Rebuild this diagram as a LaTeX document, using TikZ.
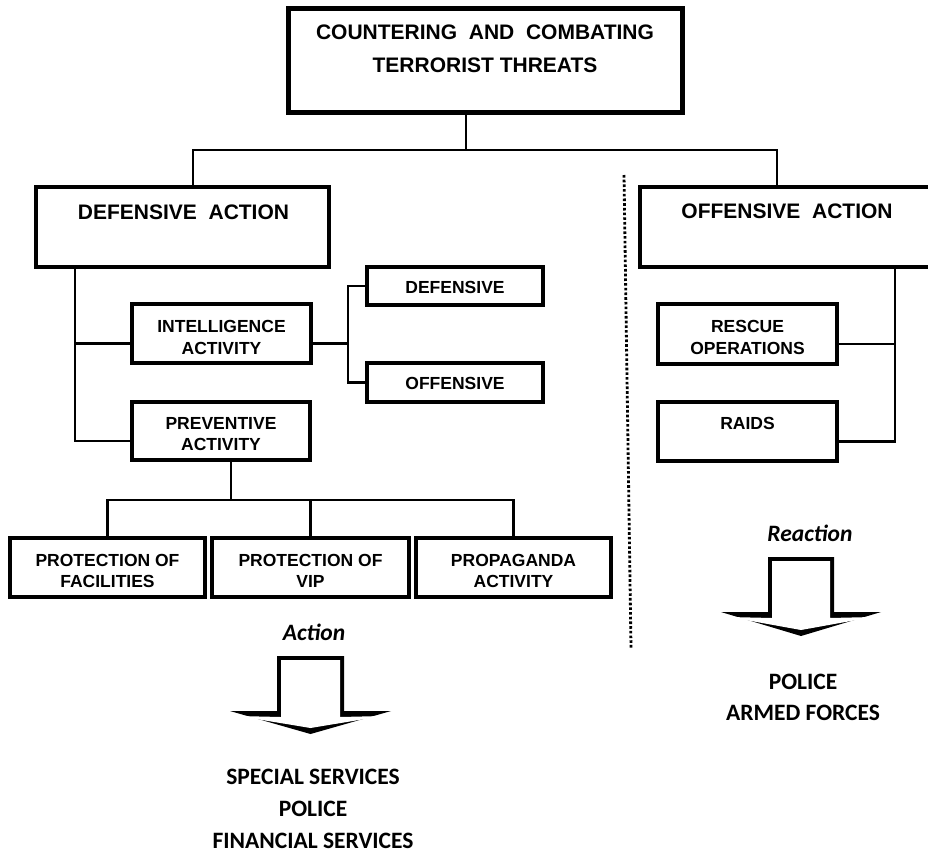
\documentclass[tikz,border=0pt]{standalone}
\usepackage{fontspec}
\newfontfamily\arialfont{Liberation Sans}
\newfontfamily\calfont{Carlito}
\usetikzlibrary{calc}
\begin{document}
\begin{tikzpicture}[x=1pt,y=-1pt,
  box/.style={draw, line width=3.6pt, inner sep=0pt, outer sep=0pt},
  conn/.style={line width=2.2pt},
  big/.style={font=\arialfont\bfseries\fontsize{21}{33}\selectfont, inner sep=0pt, align=center},
  sml/.style={font=\arialfont\bfseries\fontsize{17.5}{21.5}\selectfont, inner sep=0pt, align=center},
  cal/.style={font=\calfont\bfseries\fontsize{23.5}{32}\selectfont, inner sep=0pt, align=center},
  calit/.style={font=\calfont\bfseries\itshape\fontsize{23.5}{32}\selectfont, inner sep=0pt},
]
\useasboundingbox[fill=white] (0,0) rectangle (928,854);

% boxes
\node[box, line width=5pt, minimum width=394pt, minimum height=104pt] (top) at (485,60) {};
\node[big] (topt) at (485,48.5) {COUNTERING\ \ AND\ \ COMBATING\\TERRORIST THREATS};

\node[box, minimum width=293pt, minimum height=80pt] (def) at (182.5,227) {};
\node[big] (deft) at (183.5,212) {DEFENSIVE\ \ ACTION};
\node[box, minimum width=290pt, minimum height=80pt] (off) at (785,227) {};
\node[big] (offt) at (787,211) {OFFENSIVE\ \ ACTION};

\node[box, minimum width=179pt, minimum height=59pt] (int) at (221.5,333.5) {};
\node[sml] (intt) at (221.5,337.5) {INTELLIGENCE\\ACTIVITY};
\node[box, minimum width=176pt, minimum height=38pt] (dsm) at (455,286) {};
\node[sml] (dsmt) at (455,287) {DEFENSIVE};
\node[box, minimum width=176pt, minimum height=39pt] (osm) at (455,382.5) {};
\node[sml] (osmt) at (455,383) {OFFENSIVE};
\node[box, minimum width=178pt, minimum height=58pt] (prev) at (221,431) {};
\node[sml] (prevt) at (221,434) {PREVENTIVE\\ACTIVITY};

\node[box, minimum width=179pt, minimum height=60pt] (resc) at (747.5,334) {};
\node[sml] (resct) at (747.5,337.5) {RESCUE\\OPERATIONS};
\node[box, minimum width=179pt, minimum height=59pt] (raid) at (747.5,431.5) {};
\node[sml] (raidt) at (747.5,423) {RAIDS};

\node[box, minimum width=195pt, minimum height=59pt] (fac) at (107.5,567.5) {};
\node[sml] (fact) at (107.5,571) {PROTECTION OF\\FACILITIES};
\node[box, minimum width=197pt, minimum height=59pt] (vip) at (310.5,567.5) {};
\node[sml] (vipt) at (310.5,571) {PROTECTION OF\\VIP};
\node[box, minimum width=195pt, minimum height=59pt] (prop) at (513.5,567.5) {};
\node[sml] (propt) at (513.5,571) {PROPAGANDA\\ACTIVITY};

% connectors
\coordinate (j0) at (466,150);
\coordinate (jl) at (193,150);
\coordinate (jr) at (777,150);
\draw[conn] (top.south -| j0) -- (j0);
\draw[conn] (def.north -| jl) -- (jl) -- (jr) -- (off.north -| jr);

\coordinate (lt) at (75,0);
\draw[conn] (def.south -| lt) |- ([yshift=-10pt]prev.west);
\draw[conn] ([yshift=-10pt]int.west) -- ([yshift=-10pt]int.west -| lt);

\coordinate (sp) at (348,0);
\draw[conn] ([yshift=-10pt]int.east) -- ([yshift=-10pt]int.east -| sp);
\draw[conn] (dsm.west) -- (dsm.west -| sp) -- (osm.west -| sp) -- (osm.west);

\coordinate (rt) at (895,0);
\draw[conn] (off.south -| rt) |- ([yshift=-10pt]raid.east);
\draw[conn] ([yshift=-10pt]resc.east) -- ([yshift=-10pt]resc.east -| rt);

\coordinate (pj) at (231,500);
\draw[conn] (prev.south -| pj) -- (pj);
\draw[conn] (fac.north) |- (pj) -| (prop.north);
\draw[conn] (vip.north) -- (vip.north |- pj);

% dotted divider
\coordinate (d1) at (624,175);
\coordinate (d2) at (631,648);
\draw[line width=2.8pt, dash pattern=on 2.6pt off 2.1pt] (d1) -- (d2);

% Action arrow
\node[calit] (act) at (314,632) {Action};
\fill[black] (277,656) -- (344,656) -- (344,711) -- (391,711) -- (310.5,734) -- (230,711) -- (277,711) -- cycle;
\fill[white] (281,660) -- (340,660) -- (340,717) -- (383,716) -- (310.5,728) -- (238,716) -- (281,717) -- cycle;
\node[cal] (actt) at (313,809) {SPECIAL SERVICES\\POLICE\\FINANCIAL SERVICES};

% Reaction arrow
\node[calit] (react) at (810,533) {Reaction};
\fill[black] (768,557) -- (834,557) -- (834,612) -- (881,612) -- (801,636) -- (721,612) -- (768,612) -- cycle;
\fill[white] (772,561) -- (830,561) -- (830,618) -- (873,617) -- (801,630) -- (729,617) -- (772,618) -- cycle;
\node[cal, font=\calfont\bfseries\fontsize{23.5}{31}\selectfont] (reactt) at (803,697.5) {POLICE\\ARMED FORCES};
\end{tikzpicture}
\end{document}
